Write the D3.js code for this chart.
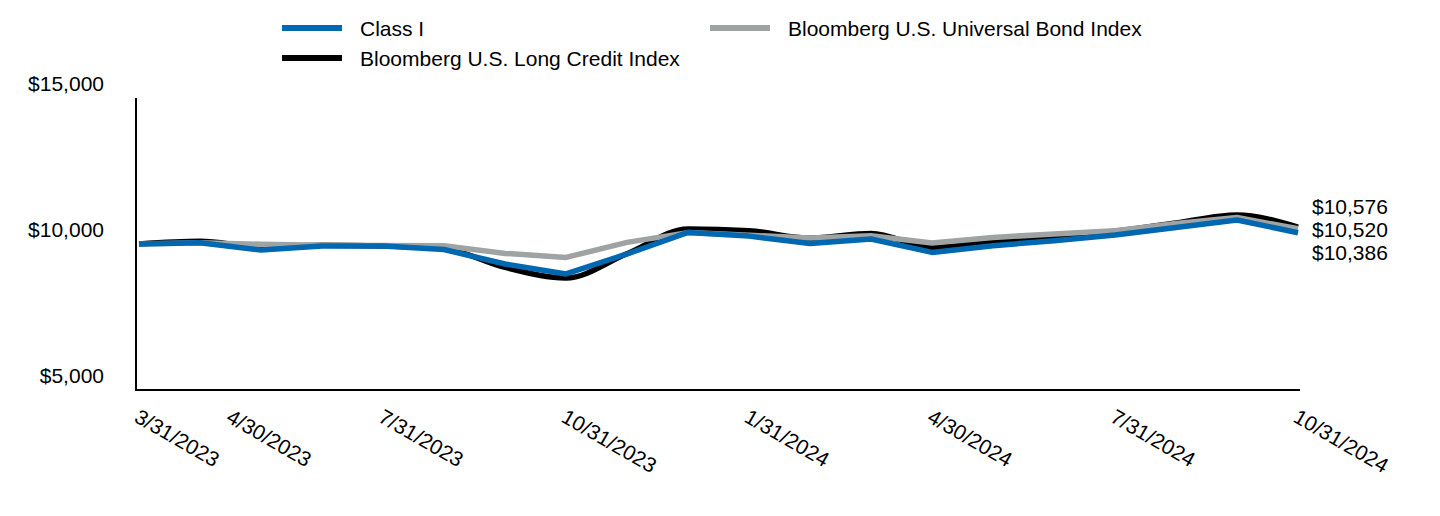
<!DOCTYPE html>
<html>
<head>
<meta charset="utf-8">
<script src="https://cdn.jsdelivr.net/npm/d3@7"></script>
<style>
  body { margin: 0; background: #fff; }
  svg text { font-family: "Liberation Sans", Arial, sans-serif; fill: #000; }
</style>
</head>
<body>
<svg id="chart" width="1440" height="516"></svg>
<script>
const dates = ["3/31/2023","4/30/2023","5/31/2023","6/30/2023","7/31/2023","8/31/2023","9/30/2023","10/31/2023","11/30/2023","12/31/2023","1/31/2024","2/29/2024","3/31/2024","4/30/2024","5/31/2024","6/30/2024","7/31/2024","8/31/2024","9/30/2024","10/31/2024"];
const classI     = [10000,10040,9795,9930,9930,9810,9315,8973,9658,10397,10270,10020,10171,9712,9942,10113,10308,10568,10822,10386];
const longCredit = [10000,10090,9900,9960,9935,9840,9199,8836,9668,10514,10455,10200,10363,9884,10090,10270,10440,10720,10993,10576];
const universal  = [10000,10040,9990,9960,9950,9942,9678,9541,10055,10390,10300,10205,10284,10034,10226,10342,10455,10705,10911,10520];
const xTickLabels = ["3/31/2023","4/30/2023","7/31/2023","10/31/2023","1/31/2024","4/30/2024","7/31/2024","10/31/2024"];
const yTicks = [5000,10000,15000];
const seriesNames = ["Class I","Bloomberg U.S. Long Credit Index","Bloomberg U.S. Universal Bond Index"];

const colors = {classI:"#0067b1", longCredit:"#000000", universal:"#a0a3a3"};
const svg = d3.select("#chart");
const FS = 21;

const x = d3.scalePoint().domain(dates).range([139,1298]);
const y = d3.scaleLinear().domain([5000,15000]).range([390,98]);
const fmt = v => "$" + d3.format(",")(v);

// axes lines
svg.append("line").attr("x1",136).attr("x2",136).attr("y1",y(15000)).attr("y2",y(5000)+1)
  .attr("stroke","#000").attr("stroke-width",2);
svg.append("line").attr("x1",135).attr("x2",x(dates[dates.length-1])+2).attr("y1",390).attr("y2",390)
  .attr("stroke","#000").attr("stroke-width",2);

// y axis labels
const yAxis = d3.axisLeft(y).tickValues(yTicks).tickSize(0).tickPadding(0).tickFormat(fmt);
const gy = svg.append("g").attr("transform","translate(104,0)").call(yAxis);
gy.select(".domain").remove();
gy.selectAll("text").attr("font-size",FS).attr("font-family",null).attr("dy",null)
  .attr("y",-15).attr("dy","0.35em").attr("fill","#000");

// x axis labels (rotated)
const gx = svg.append("g");
xTickLabels.forEach((d,i) => {
  const nudge = (i === 1) ? 31 : 0; // avoid overlap with the first label
  const tx = x(d) - 6 + nudge;
  gx.append("text").attr("transform",`translate(${tx},421) rotate(30)`)
    .attr("font-size",FS).text(d);
});

// lines
const lineLinear = d3.line().x((d,i)=>x(dates[i])).y(d=>y(d));
const lineSmooth = d3.line().x((d,i)=>x(dates[i])).y(d=>y(d)).curve(d3.curveMonotoneX);
svg.append("path").datum(longCredit).attr("d",lineSmooth).attr("fill","none")
  .attr("stroke",colors.longCredit).attr("stroke-width",5.5).attr("stroke-linejoin","round");
svg.append("path").datum(universal).attr("d",lineLinear).attr("fill","none")
  .attr("stroke",colors.universal).attr("stroke-width",5.5).attr("stroke-linejoin","round");
svg.append("path").datum(classI).attr("d",lineLinear).attr("fill","none")
  .attr("stroke",colors.classI).attr("stroke-width",5.5).attr("stroke-linejoin","round");

// end labels, spread to avoid overlap
const ends = [longCredit, universal, classI].map(s => s[s.length-1]).sort((a,b)=>b-a);
const endYs = ends.map(v=>y(v));
const meanY = d3.mean(endYs);
const gap = 23;
ends.forEach((v,i) => {
  svg.append("text").attr("x",1312).attr("y",meanY + (i-1)*gap).attr("dy","0.35em")
    .attr("font-size",FS).text(fmt(v));
});

// legend
const legend = [
  {name:seriesNames[0], color:colors.classI, lx:282, ly:28},
  {name:seriesNames[2], color:colors.universal, lx:710, ly:28},
  {name:seriesNames[1], color:colors.longCredit, lx:282, ly:58}
];
legend.forEach(l => {
  svg.append("line").attr("x1",l.lx).attr("x2",l.lx+60).attr("y1",l.ly).attr("y2",l.ly)
    .attr("stroke",l.color).attr("stroke-width",6);
  svg.append("text").attr("x",l.lx+78).attr("y",l.ly+1).attr("dy","0.35em")
    .attr("font-size",FS).text(l.name);
});
</script>
</body>
</html>
